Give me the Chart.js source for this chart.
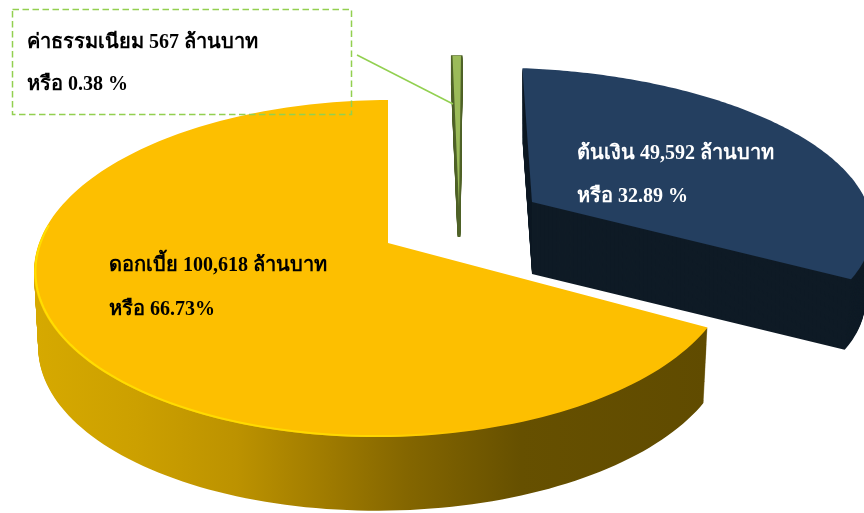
<!DOCTYPE html>
<html lang="th">
<head>
<meta charset="utf-8">
<style>
  html, body { margin: 0; padding: 0; background: #fff; }
  canvas { display: block; }
</style>
<script src="https://cdn.jsdelivr.net/npm/chart.js@4"></script>
</head>
<body>
<canvas id="pie" width="864" height="513"></canvas>
<script>
const categories = ['ค่าธรรมเนียม', 'ต้นเงิน', 'ดอกเบี้ย'];
const amounts = [567, 49592, 100618];
const noteLines = [
    ['ค่าธรรมเนียม 567 ล้านบาท', 'หรือ 0.38 %'],
    ['ต้นเงิน 49,592 ล้านบาท', 'หรือ 32.89 %'],
    ['ดอกเบี้ย 100,618 ล้านบาท', 'หรือ 66.73%']
];

// how each exploded slice sits on the page (tilted plane -> screen)
const slicePlanes = [
    { ax: 459, ay: 207, a: 414, e: 7.5, f: 0, t: 174, g: 0, h: -0.15, depth: 30, shrink: 0 },
    { ax: 532, ay: 202, a: 353, e: 19, f: 3, t: 149, g: 0.052, h: -0.111, depth: 72, shrink: 0.02 },
    { ax: 388, ay: 243, a: 345, e: 0, f: -2.8, t: 164.6, g: 0.014, h: -0.1513, depth: 76, shrink: 0.012 }
];
const topColors = ['#9BBB59', '#243F60', '#FDBF00'];
const wallColors = ['#4F6228', '#0F1B26', null];
const wallStrokes = [3, 0, 0];
const textColors = ['#000', '#fff', '#000'];
const textSpots = [[27, 48, 90], [577, 159, 202], [109, 271, 315]];
const drawOrder = [1, 0, 2];

function project(plane, angle, radius) {
    const u = Math.cos(angle) * radius;
    const v = Math.sin(angle) * radius;
    const w = 1 + plane.g * u + plane.h * v;
    return [
        plane.ax + (plane.a * u + plane.e * v) / w,
        plane.ay + (plane.f * u + plane.t * v) / w
    ];
}

function slicePath(ctx, plane, arc, drop) {
    const k = 1 - plane.shrink * drop / (plane.depth || 1);
    const steps = 160;
    ctx.beginPath();
    ctx.moveTo(plane.ax, plane.ay + drop);
    for (let i = 0; i <= steps; i++) {
        const ang = arc.startAngle + (arc.endAngle - arc.startAngle) * i / steps;
        const p = project(plane, ang, 1);
        ctx.lineTo(plane.ax + (p[0] - plane.ax) * k, plane.ay + drop + (p[1] - plane.ay) * k);
    }
    ctx.closePath();
}

function yellowWall(ctx) {
    const grad = ctx.createLinearGradient(35, 0, 710, 0);
    grad.addColorStop(0, '#D6A900');
    grad.addColorStop(0.15, '#CCA000');
    grad.addColorStop(0.3, '#BC9200');
    grad.addColorStop(0.42, '#A27D00');
    grad.addColorStop(0.55, '#846600');
    grad.addColorStop(0.72, '#665000');
    grad.addColorStop(1, '#604B00');
    return grad;
}

const pie3d = {
    id: 'pie3d',
    beforeDatasetsDraw(chart) {
        const ctx = chart.ctx;
        const arcs = chart.getDatasetMeta(0).data;
        drawOrder.forEach(i => {
            const plane = slicePlanes[i];
            const arc = arcs[i];
            ctx.save();
            const wall = wallColors[i] || yellowWall(ctx);
            ctx.fillStyle = wall;
            ctx.strokeStyle = wall;
            ctx.lineWidth = wallStrokes[i];
            for (let d = plane.depth; d > 0; d--) {
                slicePath(ctx, plane, arc, d);
                ctx.fill();
                if (wallStrokes[i]) ctx.stroke();
            }
            slicePath(ctx, plane, arc, 0);
            ctx.fillStyle = topColors[i];
            ctx.fill();
            ctx.restore();
        });

        // light rim on the near edge of the big slice
        const arc = arcs[2];
        const plane = slicePlanes[2];
        const rim = ctx.createLinearGradient(35, 0, 480, 0);
        rim.addColorStop(0, 'rgba(255,226,0,0.9)');
        rim.addColorStop(0.75, 'rgba(255,226,0,0.7)');
        rim.addColorStop(1, 'rgba(255,226,0,0)');
        ctx.save();
        ctx.strokeStyle = rim;
        ctx.lineWidth = 2;
        ctx.beginPath();
        for (let i = 0; i <= 80; i++) {
            const ang = Math.PI * 0.42 + Math.PI * 0.62 * i / 80;
            const p = project(plane, ang, 0.996);
            if (i === 0) ctx.moveTo(p[0], p[1]); else ctx.lineTo(p[0], p[1]);
        }
        ctx.stroke();
        ctx.restore();
        return false;
    },
    afterDraw(chart) {
        const ctx = chart.ctx;
        ctx.save();
        // note box and its leader line
        ctx.strokeStyle = '#92D050';
        ctx.lineWidth = 1.5;
        ctx.setLineDash([6.5, 3.5]);
        ctx.strokeRect(12.5, 9.5, 339, 105);
        ctx.setLineDash([]);
        ctx.beginPath();
        ctx.moveTo(357, 55);
        ctx.lineTo(453, 104);
        ctx.stroke();

        ctx.font = 'bold 20px "Liberation Serif", "Noto Sans", serif';
        ctx.textBaseline = 'alphabetic';
        noteLines.forEach((lines, i) => {
            ctx.fillStyle = textColors[i];
            lines.forEach((line, n) => {
                ctx.fillText(line, textSpots[i][0], textSpots[i][n + 1]);
            });
        });
        ctx.restore();
    }
};

new Chart(document.getElementById('pie'), {
    type: 'pie',
    data: {
        labels: categories,
        datasets: [{ data: amounts, backgroundColor: topColors, borderWidth: 0 }]
    },
    options: {
        responsive: false,
        animation: false,
        plugins: { legend: { display: false }, tooltip: { enabled: false } }
    },
    plugins: [pie3d]
});
</script>
</body>
</html>
